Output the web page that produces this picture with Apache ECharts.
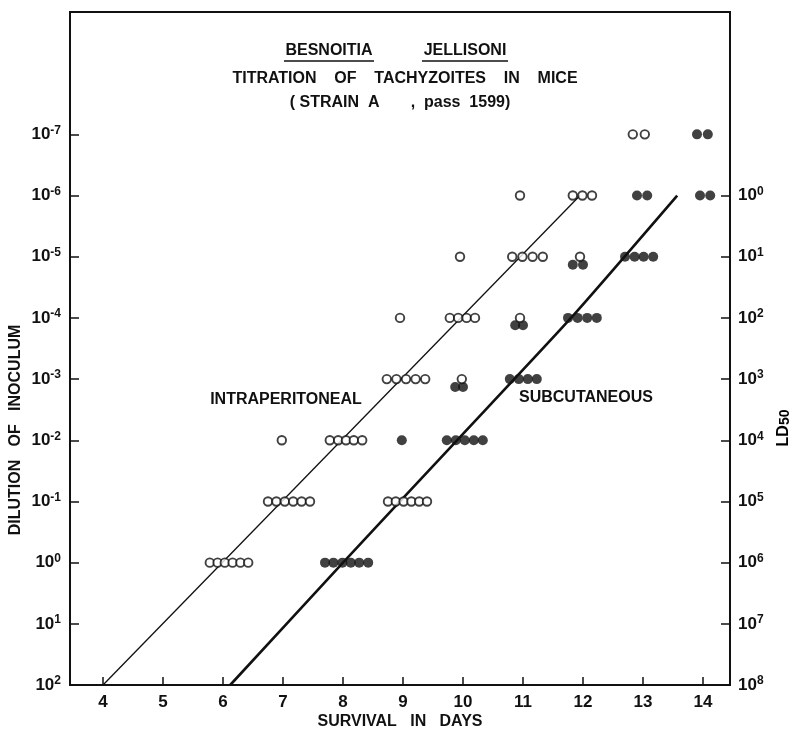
<!DOCTYPE html>
<html><head><meta charset="utf-8">
<script src="https://cdn.jsdelivr.net/npm/echarts@6/dist/echarts.min.js"></script>
<style>html,body{margin:0;padding:0;background:#fff}#c{width:795px;height:734px}</style>
</head><body><div id="c"></div>
<script>
// ---- data ----
const xTicks = [4,5,6,7,8,9,10,11,12,13,14];
const dilutionTicks = [-7,-6,-5,-4,-3,-2,-1,0,1,2];     // exponent of dilution (left axis)
const ld50Ticks = [-6,-5,-4,-3,-2,-1,0,1,2];            // positions of LD50 ticks (dilution exponent)
const ld50Offset = 6;                                   // LD50 exponent = dilution exponent + 6

// open circles: survival day, dilution exponent
const openDays = [5.78,5.91,6.03,6.16,6.29,6.42,
  6.75,6.89,7.03,7.17,7.31,7.45, 8.75,8.88,9.01,9.14,9.27,9.40,
  6.98, 7.78,7.92,8.05,8.18,8.32,
  8.73,8.89,9.05,9.21,9.37, 9.98,
  8.95, 9.78,9.92,10.06,10.20, 10.95,
  9.95, 10.82,10.99,11.16,11.33, 11.95,
  10.95, 11.83,11.99,12.15,
  12.83,13.03];
const openExp = [0,0,0,0,0,0,
  -1,-1,-1,-1,-1,-1, -1,-1,-1,-1,-1,-1,
  -2, -2,-2,-2,-2,-2,
  -3,-3,-3,-3,-3, -3,
  -4, -4,-4,-4,-4, -4,
  -5, -5,-5,-5,-5, -5,
  -6, -6,-6,-6,
  -7,-7];
// filled circles: survival day, dilution exponent
const filledDays = [7.70,7.84,7.99,8.13,8.27,8.42,
  8.98, 9.73,9.88,10.03,10.18,10.33,
  9.87,10.00, 10.78,10.93,11.08,11.23,
  10.87,11.00, 11.75,11.91,12.07,12.23,
  11.83,12.00, 12.70,12.86,13.01,13.17,
  12.90,13.07, 13.95,14.12,
  13.90,14.08];
const filledExp = [0,0,0,0,0,0,
  -2, -2,-2,-2,-2,-2,
  -2.87,-2.87, -3,-3,-3,-3,
  -3.88,-3.88, -4,-4,-4,-4,
  -4.87,-4.87, -5,-5,-5,-5,
  -6,-6, -6,-6,
  -7,-7];
// fitted lines
const ipLineDays = [4.0, 11.95];
const ipLineExp = [2, -6];
const scLineDays = [6.12, 8.0, 9.9, 11.8, 13.57];
const scLineExp = [2, 0, -2, -4, -6];

// ---- chart ----
const FONT = "'Liberation Sans', Arial, sans-serif";
const INK = '#111';
const zip = (a, b) => a.map((v, i) => [v, b[i]]);
const sup = v => '{b|10}{s|' + v + '}';

const chart = echarts.init(document.getElementById('c'), null, {renderer: 'canvas'});
const axisRich = {
  b: {fontSize: 17, fontWeight: 'bold', fontFamily: FONT, color: INK, lineHeight: 20},
  s: {fontSize: 12, fontWeight: 'bold', fontFamily: FONT, color: INK, verticalAlign: 'top', lineHeight: 12}
};
const T = (x, y, text, extra) => Object.assign({type: 'text', x: x, y: y, style: {text: text, font: 'bold 16px ' + FONT, fill: INK, align: 'center', verticalAlign: 'middle', textAlign: 'center', textVerticalAlign: 'middle'}}, extra || {});
chart.setOption({
  animation: false,
  backgroundColor: '#fff',
  grid: {left: 70, right: 65, top: 12, bottom: 49, show: true, borderColor: INK, borderWidth: 2, backgroundColor: 'transparent'},
  xAxis: {
    type: 'value', min: 3.45, max: 14.45,
    axisLine: {show: true, onZero: false, lineStyle: {color: INK, width: 2}},
    axisTick: {show: true, inside: true, length: 8, customValues: xTicks, lineStyle: {color: INK, width: 1.5}},
    axisLabel: {customValues: xTicks, margin: 9, color: INK, fontSize: 17, fontWeight: 'bold', fontFamily: FONT},
    splitLine: {show: false}
  },
  yAxis: [{
    type: 'value', inverse: true, min: -9, max: 2, position: 'left',
    axisLine: {show: true, onZero: false, lineStyle: {color: INK, width: 2}},
    axisTick: {show: true, inside: true, length: 9, customValues: dilutionTicks, lineStyle: {color: INK, width: 1.5}},
    axisLabel: {customValues: dilutionTicks, margin: 9, formatter: v => sup(v), rich: axisRich},
    splitLine: {show: false}
  }, {
    type: 'value', inverse: true, min: -9, max: 2, position: 'right',
    axisLine: {show: true, onZero: false, lineStyle: {color: INK, width: 2}},
    axisTick: {show: true, inside: true, length: 9, customValues: ld50Ticks, lineStyle: {color: INK, width: 1.5}},
    axisLabel: {customValues: ld50Ticks, margin: 8, formatter: v => sup(v + ld50Offset), rich: axisRich},
    splitLine: {show: false}
  }],
  series: [{
    type: 'line', data: zip(ipLineDays, ipLineExp), symbol: 'none',
    lineStyle: {color: INK, width: 1.3}, z: 2
  }, {
    type: 'line', data: zip(scLineDays, scLineExp), symbol: 'none', smooth: 0.2,
    lineStyle: {color: INK, width: 2.6}, z: 2
  }, {
    type: 'scatter', data: zip(openDays, openExp), symbol: 'circle', symbolSize: 8.5,
    itemStyle: {color: '#fff', borderColor: INK, borderWidth: 1.9}, z: 4
  }, {
    type: 'scatter', data: zip(filledDays, filledExp), symbol: 'circle', symbolSize: 10,
    itemStyle: {color: INK}, z: 3
  }],
  graphic: [
    T(329, 51, 'BESNOITIA'),
    T(465, 51, 'JELLISONI'),
    {type: 'line', shape: {x1: 284, y1: 61, x2: 374, y2: 61}, style: {stroke: INK, lineWidth: 1.6}},
    {type: 'line', shape: {x1: 422, y1: 61, x2: 508, y2: 61}, style: {stroke: INK, lineWidth: 1.6}},
    T(405, 79, 'TITRATION    OF    TACHYZOITES    IN    MICE'),
    T(400, 103, '( STRAIN  A       ,  pass  1599)'),
    T(286, 400, 'INTRAPERITONEAL'),
    T(586, 398, 'SUBCUTANEOUS'),
    T(400, 722, 'SURVIVAL   IN   DAYS'),
    T(16, 430, 'DILUTION   OF   INOCULUM', {rotation: Math.PI / 2}),
    {type: 'text', x: 782, y: 428, rotation: Math.PI / 2, style: {text: '{a|LD}{b|50}', rich: {a: {fontSize: 16, fontWeight: 'bold', fontFamily: FONT, color: INK, verticalAlign: 'bottom', lineHeight: 20}, b: {fontSize: 14, fontWeight: 'bold', fontFamily: FONT, color: INK, verticalAlign: 'bottom', lineHeight: 16}}, align: 'center', verticalAlign: 'middle', textAlign: 'center', textVerticalAlign: 'middle'}}
  ]
});
</script>
</body></html>
